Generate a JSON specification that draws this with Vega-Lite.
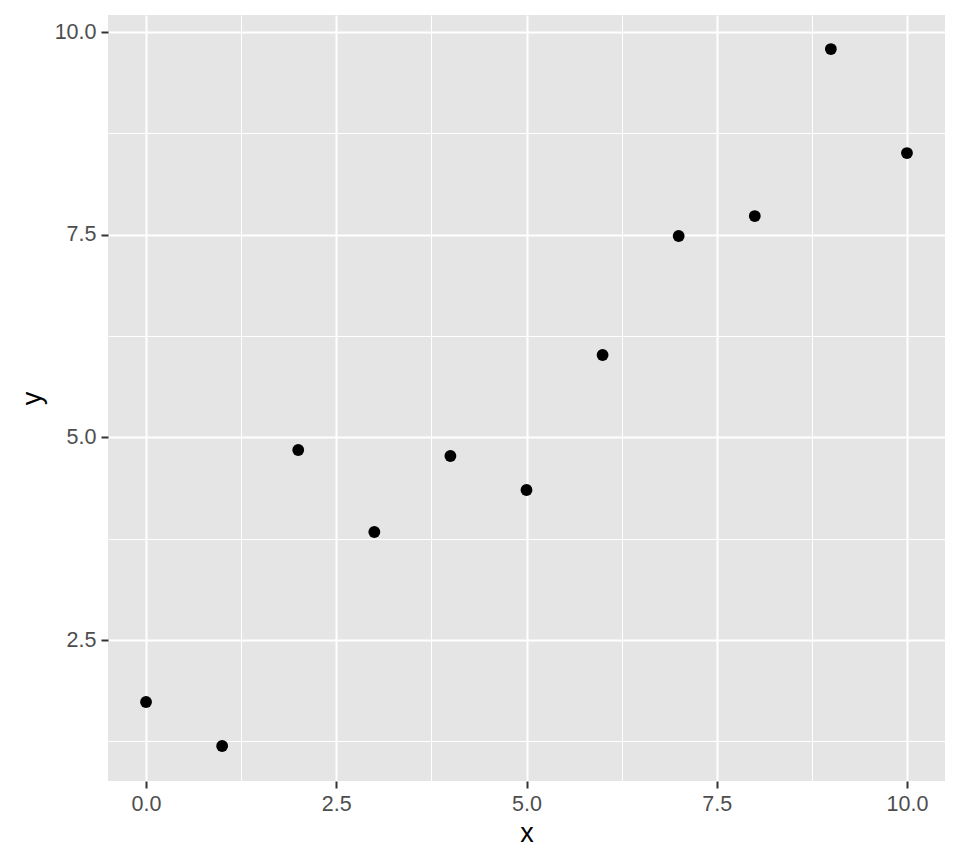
{
  "$schema": "https://vega.github.io/schema/vega-lite/v6.json",
  "width": 837,
  "height": 766,
  "autosize": {"type": "none"},
  "padding": {"left": 108, "top": 15, "right": 15, "bottom": 84},
  "background": "white",
  "config": {
    "view": {"fill": "#E5E5E5", "stroke": null},
    "font": "Liberation Sans"
  },
  "data": {
    "values": [
      {"x": 0, "y": 1.735},
      {"x": 1, "y": 1.193},
      {"x": 2, "y": 4.844},
      {"x": 3, "y": 3.833},
      {"x": 4, "y": 4.770},
      {"x": 5, "y": 4.351},
      {"x": 6, "y": 6.016},
      {"x": 7, "y": 7.484},
      {"x": 8, "y": 7.730},
      {"x": 9, "y": 9.790},
      {"x": 10, "y": 8.507}
    ]
  },
  "layer": [
    {
      "mark": {"type": "point", "opacity": 0},
      "encoding": {
        "x": {"field": "x", "type": "quantitative", "scale": {"domain": [-0.5, 10.5], "nice": false, "zero": false},
          "axis": {"values": [1.25, 3.75, 6.25, 8.75], "grid": true, "gridColor": "white", "gridOpacity": 1, "gridWidth": 1, "domain": false, "ticks": false, "labels": false, "title": null, "orient": "top"}},
        "y": {"field": "y", "type": "quantitative", "scale": {"domain": [0.761, 10.21], "nice": false, "zero": false},
          "axis": {"values": [1.25, 3.75, 6.25, 8.75], "grid": true, "gridColor": "white", "gridOpacity": 1, "gridWidth": 1, "domain": false, "ticks": false, "labels": false, "title": null, "orient": "right"}}
      }
    },
    {
      "mark": {"type": "circle", "color": "black", "opacity": 1, "size": 140},
      "encoding": {
        "x": {"field": "x", "type": "quantitative", "scale": {"domain": [-0.5, 10.5], "nice": false, "zero": false},
          "axis": {"values": [0, 2.5, 5, 7.5, 10], "format": ".1f", "grid": true, "gridColor": "white", "gridOpacity": 1, "gridWidth": 2, "domain": false,
            "tickColor": "#333333", "tickWidth": 2, "tickSize": 7,
            "labelColor": "#4D4D4D", "labelFontSize": 21.5, "labelFont": "Liberation Sans", "labelPadding": 5,
            "title": "x", "titleFont": "Liberation Sans", "titleFontSize": 27, "titleFontWeight": "normal", "titleColor": "black", "titlePadding": 6, "orient": "bottom"}},
        "y": {"field": "y", "type": "quantitative", "scale": {"domain": [0.761, 10.21], "nice": false, "zero": false},
          "axis": {"values": [2.5, 5, 7.5, 10], "format": ".1f", "grid": true, "gridColor": "white", "gridOpacity": 1, "gridWidth": 2, "domain": false,
            "tickColor": "#333333", "tickWidth": 2, "tickSize": 7,
            "labelColor": "#4D4D4D", "labelFontSize": 21.5, "labelFont": "Liberation Sans", "labelPadding": 5,
            "title": "y", "titleFont": "Liberation Sans", "titleFontSize": 27, "titleFontWeight": "normal", "titleColor": "black", "titlePadding": 8, "orient": "left"}}
      }
    }
  ],
  "resolve": {"axis": {"x": "independent", "y": "independent"}}
}
